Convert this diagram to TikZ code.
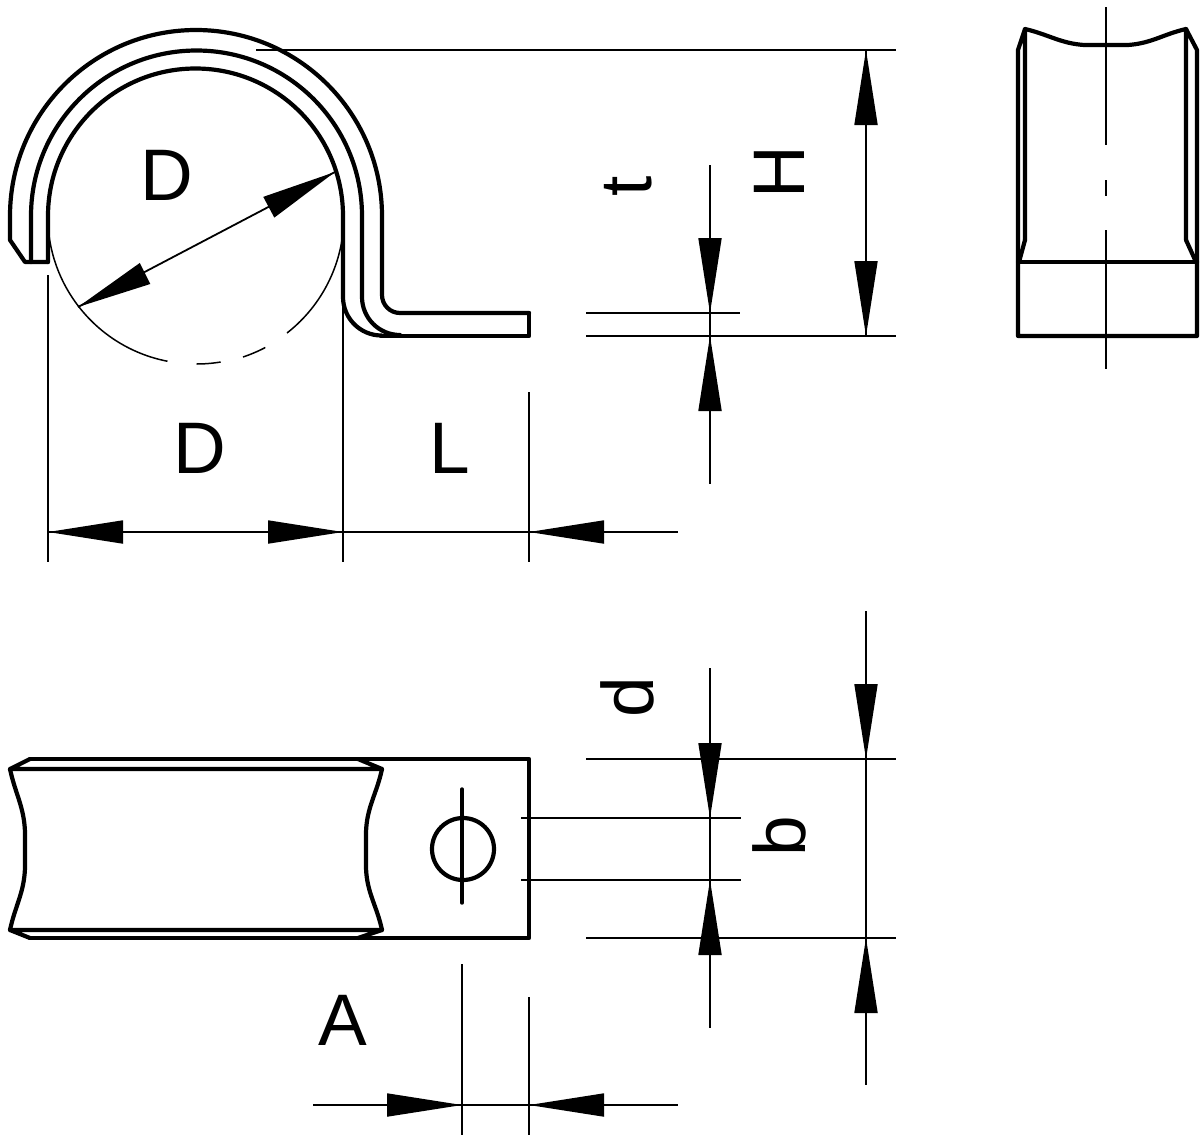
\documentclass[tikz,border=0pt]{standalone}
\usepackage{fontspec}
\setmainfont{Liberation Sans}
\usetikzlibrary{arrows.meta}
\tikzset{
  x=1pt,y=1pt,
  heavy/.style={draw=black,line width=4.2pt,line join=round,line cap=round},
  lean/.style={draw=black,line width=1.8pt},
  faint/.style={draw=black,line width=1.5pt},
  centre/.style={draw=black,line width=2pt},
  dim/.style={draw=black,line width=1.8pt,-{Triangle[length=75pt,width=23pt]}},
  lab/.style={font=\fontsize{73}{73}\selectfont,inner sep=0pt,text=black},
}
\begin{document}
\begin{tikzpicture}
\useasboundingbox (0,0) rectangle (1201,-1138);
% --- front view of the clip
\draw[heavy] (31,-262) -- (31,-216) arc (180:0:165.5) -- (362,-297) arc (180:270:38);
\draw[heavy] (48,-262) -- (48,-216) arc (180:0:147.5) -- (343,-297) arc (180:270:38.5);
\draw[heavy] (529,-313) -- (400,-313) arc (270:180:18) -- (382,-216) arc (0:180:186) -- (10,-240) -- (25,-262) -- (48,-262);
\draw[heavy] (381,-336) -- (529,-336) -- (529,-313);
% thin pipe circle
\draw[faint] (48,-225) arc (183.5:259:148);
\draw[faint] (196.5,-364) arc (270:279.4:148);
\draw[faint] (243,-357) arc (288.4:297.8:148);
\draw[faint] (287,-333) arc (308:350.7:148);
% --- side view
\draw[heavy] (1025,-240) -- (1025,-29) -- (1018,-50) -- (1018,-336) -- (1197,-336) -- (1197,-50) -- (1186,-29) -- (1186,-240);
\draw[heavy] (1018,-262) -- (1197,-262);
\draw[heavy] (1025,-240) -- (1019,-262);
\draw[heavy] (1186,-240) -- (1196,-262);
\draw[heavy] (1025,-29) to[out=-13,in=176] (1084,-45) -- (1128,-45) to[out=4,in=193] (1186,-29);
\draw[centre] (1106,-7) -- (1106,-145);
\draw[centre] (1106,-180) -- (1106,-196);
\draw[centre] (1106,-230) -- (1106,-369);
% --- plan view
\draw[heavy] (30,-759) -- (529,-759) -- (529,-938) -- (30,-938);
\draw[heavy] (30,-759) -- (10,-769) -- (382,-769) -- (358,-759);
\draw[heavy] (30,-938) -- (10,-930) -- (382,-930) -- (358,-938);
\draw[heavy] (10,-769) to[out=-78,in=92] (25,-832) -- (25,-868) to[out=-92,in=78] (10,-930);
\draw[heavy] (382,-769) to[out=-102,in=88] (366,-832) -- (366,-868) to[out=-88,in=102] (382,-930);
\draw[heavy] (463,-849) circle (31);
\draw[line width=3.4pt,line cap=round] (462,-789) -- (462,-903);
% --- extension lines
\draw[lean] (256,-50) -- (896,-50);
\draw[lean] (586,-336) -- (896,-336);
\draw[lean] (586,-313) -- (740,-313);
\draw[lean] (48,-275) -- (48,-562);
\draw[lean] (343,-297) -- (343,-562);
\draw[lean] (529,-392) -- (529,-562);
\draw[lean] (586,-759) -- (896,-759);
\draw[lean] (586,-938) -- (896,-938);
\draw[lean] (521,-818) -- (741,-818);
\draw[lean] (521,-880) -- (741,-880);
\draw[lean] (462,-964) -- (462,-1135);
\draw[lean] (529,-997) -- (529,-1135);
% --- dimension lines
\draw[lean] (48,-532) -- (678,-532);
\draw[lean] (866,-50) -- (866,-336);
\draw[lean] (710,-165) -- (710,-484);
\draw[lean] (710,-668) -- (710,-1028);
\draw[lean] (866,-611) -- (866,-1085);
\draw[lean] (313,-1105) -- (678,-1105);
\draw[lean] (78,-307) -- (335,-172);
% --- arrowheads
\draw[dim] (122,-532) -- (48,-532);
\draw[dim] (268,-532) -- (343,-532);
\draw[dim] (604,-532) -- (529,-532);
\draw[dim] (142,-275) -- (78,-307);
\draw[dim] (273,-205) -- (335,-172);
\draw[dim] (866,-127) -- (866,-50);
\draw[dim] (866,-260) -- (866,-336);
\draw[dim] (710,-238) -- (710,-313);
\draw[dim] (710,-410) -- (710,-336);
\draw[dim] (710,-741) -- (710,-818);
\draw[dim] (710,-955) -- (710,-880);
\draw[dim] (866,-686) -- (866,-759);
\draw[dim] (866,-1011) -- (866,-938);
\draw[dim] (388,-1105) -- (462,-1105);
\draw[dim] (604,-1105) -- (529,-1105);
% --- labels
\node[lab] (dcircle) at (167,-175) {D};
\node[lab] (dwidth) at (200,-448) {D};
\node[lab] (lleng) at (450,-448) {L};
\node[lab,rotate=90] (theight) at (628,-186) {t};
\node[lab,rotate=90] (hheight) at (779,-172) {H};
\node[lab,rotate=90] (dhole) at (627,-697) {d};
\node[lab,rotate=90] (bwidth) at (779,-836) {b};
\node[lab] (adist) at (343,-1020) {A};
\end{tikzpicture}
\end{document}
